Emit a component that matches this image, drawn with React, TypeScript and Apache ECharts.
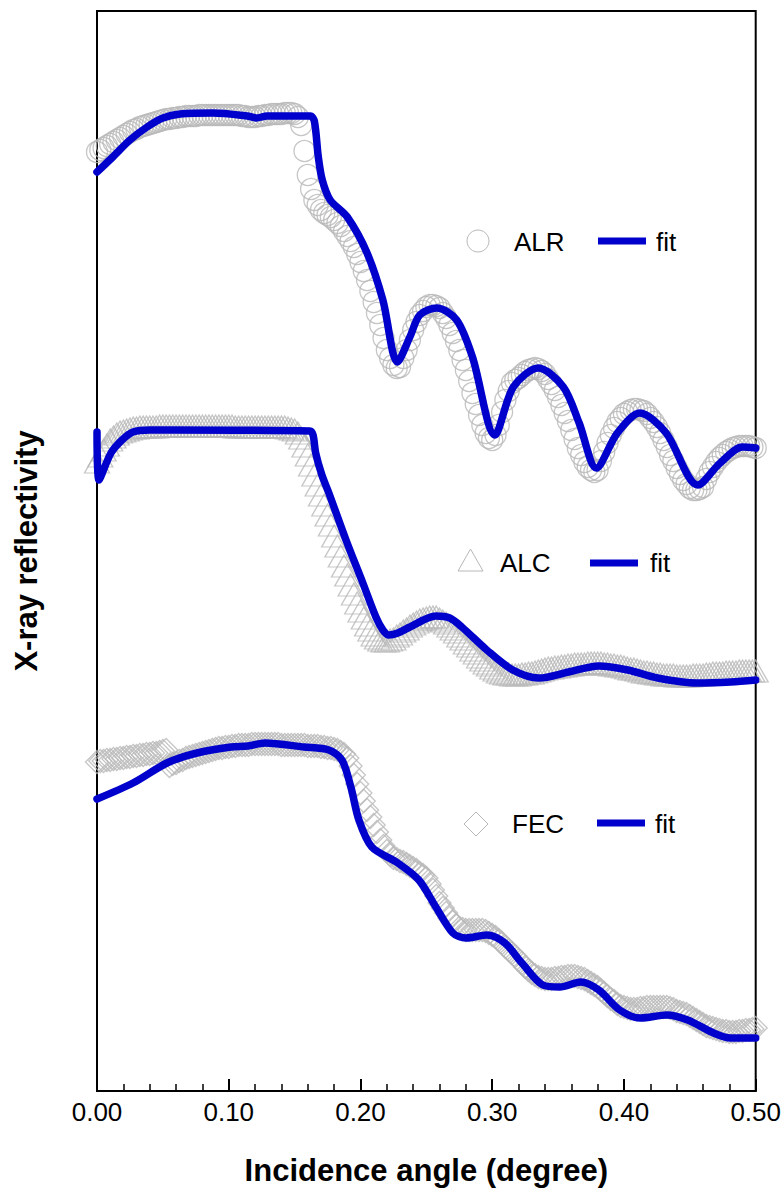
import React, { useEffect, useRef } from 'react';
import * as echarts from 'echarts';

// Incidence angle sampling of the measured curves (degree)
const ANGLES = [0,0.005,0.01,0.015,0.02,0.025,0.03,0.035,0.04,0.045,0.05,0.055,0.06,0.065,0.07,0.075,0.08,0.085,0.09,0.095,0.1,0.105,0.11,0.115,0.12,0.125,0.13,0.135,0.14,0.145,0.15,0.155,0.16,0.165,0.17,0.175,0.18,0.185,0.19,0.195,0.2,0.205,0.21,0.215,0.22,0.225,0.23,0.235,0.24,0.245,0.25,0.255,0.26,0.265,0.27,0.275,0.28,0.285,0.29,0.295,0.3,0.305,0.31,0.315,0.32,0.325,0.33,0.335,0.34,0.345,0.35,0.355,0.36,0.365,0.37,0.375,0.38,0.385,0.39,0.395,0.4,0.405,0.41,0.415,0.42,0.425,0.43,0.435,0.44,0.445,0.45,0.455,0.46,0.465,0.47,0.475,0.48,0.485,0.49,0.495,0.5];
const ANGLES_MID = [0.0025,0.0075,0.0125,0.0175,0.0225,0.0275,0.0325,0.0375,0.0425,0.0475,0.0525,0.0575,0.0625,0.0675,0.0725,0.0775,0.0825,0.0875,0.0925,0.0975,0.1025,0.1075,0.1125,0.1175,0.1225,0.1275,0.1325,0.1375,0.1425,0.1475,0.1525,0.1575,0.1625,0.1675,0.1725,0.1775,0.1825,0.1875,0.1925,0.1975,0.2025,0.2075,0.2125,0.2175,0.2225,0.2275,0.2325,0.2375,0.2425,0.2475,0.2525,0.2575,0.2625,0.2675,0.2725,0.2775,0.2825,0.2875,0.2925,0.2975,0.3025,0.3075,0.3125,0.3175,0.3225,0.3275,0.3325,0.3375,0.3425,0.3475,0.3525,0.3575,0.3625,0.3675,0.3725,0.3775,0.3825,0.3875,0.3925,0.3975,0.4025,0.4075,0.4125,0.4175,0.4225,0.4275,0.4325,0.4375,0.4425,0.4475,0.4525,0.4575,0.4625,0.4675,0.4725,0.4775,0.4825,0.4875,0.4925,0.4975];

// Measured reflectivity (arbitrary log units, curves offset)
const ALR_DATA = [9.39,9.43,9.47,9.51,9.55,9.59,9.62,9.65,9.67,9.69,
  9.71,9.72,9.73,9.74,9.75,9.75,9.76,9.76,9.76,9.76,
  9.76,9.76,9.75,9.74,9.74,9.75,9.76,9.77,9.77,9.78,
  9.77,9.66,9.16,8.91,8.81,8.76,8.71,8.65,8.55,8.44,
  8.29,8.11,7.89,7.66,7.41,7.26,7.24,7.41,7.61,7.76,
  7.84,7.86,7.83,7.73,7.58,7.41,7.21,6.98,6.76,6.58,
  6.51,6.66,6.91,7.08,7.13,7.19,7.22,7.22,7.17,7.07,
  6.94,6.78,6.61,6.43,6.29,6.21,6.21,6.39,6.56,6.69,
  6.77,6.81,6.82,6.80,6.73,6.64,6.51,6.36,6.23,6.11,
  6.03,6.01,6.04,6.19,6.29,6.36,6.41,6.44,6.45,6.45,
  6.43];
const ALR_MID = [9.41,9.45,9.49,9.53,9.57,9.61,9.64,9.66,9.68,9.70,
  9.72,9.73,9.74,9.75,9.75,9.76,9.76,9.76,9.76,9.76,
  9.76,9.76,9.75,9.74,9.75,9.76,9.77,9.77,9.78,9.78,
  9.74,9.40,9.02,8.86,8.78,8.74,8.68,8.60,8.50,8.37,
  8.20,8.00,7.78,7.53,7.33,7.23,7.33,7.51,7.69,7.80,
  7.86,7.85,7.78,7.66,7.50,7.31,7.10,6.87,6.66,6.53,
  6.56,6.79,7.00,7.11,7.16,7.21,7.23,7.20,7.12,7.01,
  6.86,6.70,6.52,6.36,6.24,6.19,6.30,6.48,6.63,6.73,
  6.79,6.82,6.81,6.77,6.69,6.58,6.44,6.30,6.17,6.07,
  6.01,6.02,6.12,6.24,6.33,6.39,6.43,6.45,6.45,6.44];

const ALC_DATA = [6.29,6.41,6.51,6.57,6.60,6.62,6.63,6.64,6.64,6.64,
  6.65,6.65,6.65,6.65,6.65,6.65,6.65,6.65,6.65,6.65,
  6.65,6.64,6.64,6.64,6.64,6.64,6.64,6.64,6.64,6.63,
  6.61,6.53,6.36,6.16,5.96,5.76,5.55,5.35,5.16,4.97,
  4.80,4.66,4.56,4.51,4.50,4.52,4.57,4.62,4.67,4.71,
  4.73,4.74,4.72,4.68,4.62,4.55,4.48,4.41,4.34,4.28,
  4.23,4.19,4.17,4.16,4.16,4.17,4.18,4.20,4.22,4.23,
  4.24,4.25,4.26,4.27,4.27,4.28,4.28,4.27,4.26,4.25,
  4.24,4.22,4.21,4.19,4.18,4.17,4.16,4.16,4.15,4.15,
  4.15,4.16,4.16,4.17,4.18,4.18,4.19,4.19,4.20,4.20,
  4.20];
const ALC_MID = [6.35,6.46,6.54,6.59,6.61,6.63,6.64,6.64,6.64,6.65,
  6.65,6.65,6.65,6.65,6.65,6.65,6.65,6.65,6.65,6.65,
  6.65,6.64,6.64,6.64,6.64,6.64,6.64,6.64,6.64,6.62,
  6.58,6.45,6.26,6.06,5.86,5.66,5.45,5.25,5.06,4.88,
  4.73,4.61,4.53,4.50,4.51,4.55,4.60,4.65,4.69,4.72,
  4.74,4.74,4.70,4.65,4.59,4.52,4.45,4.38,4.31,4.26,
  4.21,4.18,4.17,4.16,4.17,4.18,4.19,4.21,4.23,4.24,
  4.25,4.26,4.27,4.27,4.28,4.28,4.28,4.27,4.26,4.25,
  4.23,4.22,4.20,4.19,4.18,4.17,4.16,4.16,4.15,4.15,
  4.16,4.16,4.17,4.18,4.18,4.19,4.19,4.20,4.20,4.20];

const FEC_DATA = [3.29,3.30,3.31,3.32,3.33,3.34,3.35,3.36,3.37,3.38,
  3.40,3.25,3.28,3.31,3.34,3.36,3.38,3.40,3.42,3.43,
  3.44,3.45,3.46,3.46,3.47,3.47,3.47,3.47,3.46,3.46,
  3.46,3.46,3.45,3.45,3.44,3.43,3.42,3.39,3.33,3.16,
  2.98,2.81,2.66,2.51,2.40,2.33,2.30,2.27,2.23,2.18,
  2.13,2.01,1.88,1.78,1.69,1.63,1.61,1.61,1.61,1.60,
  1.56,1.51,1.44,1.38,1.31,1.24,1.18,1.14,1.12,1.12,
  1.13,1.14,1.15,1.14,1.12,1.08,1.04,0.98,0.92,0.87,
  0.84,0.82,0.82,0.83,0.84,0.84,0.84,0.83,0.80,0.78,
  0.75,0.71,0.67,0.64,0.62,0.60,0.59,0.59,0.60,0.61,
  0.63];
const FEC_MID = [3.30,3.31,3.32,3.33,3.34,3.35,3.36,3.37,3.38,3.39,
  3.41,3.27,3.30,3.33,3.35,3.37,3.39,3.41,3.43,3.44,
  3.45,3.46,3.46,3.47,3.47,3.47,3.47,3.47,3.46,3.46,
  3.46,3.46,3.45,3.45,3.44,3.43,3.41,3.37,3.25,3.07,
  2.90,2.74,2.59,2.45,2.36,2.32,2.29,2.25,2.21,2.16,
  2.07,1.95,1.83,1.73,1.66,1.62,1.61,1.61,1.61,1.58,
  1.54,1.48,1.41,1.35,1.28,1.21,1.16,1.13,1.12,1.13,
  1.14,1.15,1.15,1.13,1.10,1.06,1.01,0.95,0.90,0.85,
  0.83,0.82,0.83,0.84,0.84,0.84,0.84,0.82,0.79,0.77,
  0.73,0.69,0.65,0.63,0.61,0.60,0.59,0.60,0.61,0.62];

// Fitted curves
const ALR_FIT_X = [0,0.012,0.025,0.038,0.05,0.063,0.088,0.114,0.121,0.129,0.146,0.162,0.165,0.168,0.171,0.177,0.19,0.205,0.217,0.228,0.2375,0.245,0.258,0.273,0.285,0.302,0.316,0.335,0.354,0.366,0.379,0.395,0.412,0.432,0.456,0.473,0.49,0.5];
const ALR_FIT_Y = [9.19,9.34,9.51,9.64,9.73,9.77,9.78,9.75,9.73,9.75,9.75,9.75,9.70,9.34,9.11,8.91,8.74,8.38,7.91,7.29,7.54,7.76,7.83,7.71,7.34,6.56,7.04,7.23,7.04,6.68,6.23,6.58,6.78,6.58,6.06,6.28,6.44,6.43];

const ALC_FIT_X = [0,0.0015,0.0106,0.019,0.0273,0.04,0.059,0.1616,0.164,0.166,0.1707,0.176,0.189,0.2018,0.2117,0.217,0.2215,0.2284,0.2375,0.2572,0.2678,0.2769,0.2959,0.3156,0.3354,0.3581,0.3809,0.4029,0.4256,0.4552,0.481,0.5];
const ALC_FIT_Y = [6.59,6.11,6.38,6.51,6.59,6.61,6.61,6.60,6.56,6.38,6.16,5.98,5.51,5.08,4.74,4.61,4.56,4.58,4.64,4.75,4.73,4.64,4.41,4.21,4.13,4.19,4.25,4.21,4.13,4.08,4.09,4.11];

const FEC_FIT_X = [0,0.0273,0.0531,0.0759,0.1017,0.1146,0.1275,0.1571,0.176,0.1859,0.1927,0.1988,0.2086,0.2284,0.2443,0.2572,0.2701,0.28,0.2959,0.3096,0.3225,0.3384,0.3513,0.3672,0.3809,0.3968,0.4127,0.4325,0.4484,0.4681,0.481,0.5];
const FEC_FIT_Y = [2.92,3.08,3.28,3.38,3.44,3.45,3.48,3.44,3.41,3.31,3.04,2.71,2.44,2.28,2.11,1.84,1.58,1.53,1.56,1.48,1.28,1.06,1.04,1.09,1.01,0.81,0.73,0.76,0.71,0.58,0.53,0.53];

const SAMPLE_NAMES = ['ALR', 'ALC', 'FEC'];
const FIT_NAME = 'fit';

const GRAY = '#b8b8b8';
const BLUE = '#0000cc';
const FONT = "'Liberation Sans', Arial, sans-serif";

function zip(xs: number[], ys: number[]) {
  return xs.map((x, i) => [x, ys[i]]);
}

export default function App() {
  const ref = useRef<HTMLDivElement>(null);

  useEffect(() => {
    if (!ref.current) return;
    const chart = echarts.init(ref.current, null, { renderer: 'svg' });

    const scatter = (name: string, ys: number[], mids: number[], symbol: string, size: any) => ({
      name,
      type: 'scatter',
      data: zip(ANGLES, ys).concat(zip(ANGLES_MID, mids)),
      symbol,
      symbolSize: size,
      itemStyle: { color: 'rgba(0,0,0,0)', borderColor: GRAY, borderWidth: 1.3 },
      z: 2,
    });
    const fit = (xs: number[], ys: number[]) => ({
      name: FIT_NAME,
      type: 'line',
      data: zip(xs, ys),
      smooth: 0.3,
      showSymbol: false,
      symbol: 'none',
      lineStyle: { color: BLUE, width: 7.5, cap: 'round', join: 'round' },
      z: 3,
    });

    const legendText = (text: string, x: number, y: number) => ({
      type: 'text',
      x,
      y,
      style: { text, fontSize: 26, fontFamily: FONT, fill: '#000', verticalAlign: 'middle' },
    });
    const legendLine = (x1: number, x2: number, y: number) => ({
      type: 'line',
      shape: { x1, y1: y, x2, y2: y },
      style: { stroke: BLUE, lineWidth: 7 },
    });

    chart.setOption({
      animation: false,
      backgroundColor: '#ffffff',
      grid: {
        left: 97,
        right: 28,
        top: 11,
        bottom: 108,
        show: true,
        borderColor: '#000',
        borderWidth: 2,
        backgroundColor: 'rgba(0,0,0,0)',
      },
      xAxis: {
        type: 'value',
        min: 0,
        max: 0.5,
        interval: 0.1,
        axisLine: { show: true, onZero: false, lineStyle: { color: '#000', width: 2 } },
        axisTick: { show: true, inside: true, length: 12, lineStyle: { color: '#000', width: 2 } },
        minorTick: { show: true, splitNumber: 5, length: 7, lineStyle: { color: '#000', width: 1.5 } },
        splitLine: { show: false },
        axisLabel: {
          formatter: (v: number) => v.toFixed(2),
          fontSize: 26,
          fontFamily: FONT,
          color: '#000',
          margin: 8,
        },
        name: 'Incidence angle (degree)',
        nameLocation: 'middle',
        nameGap: 64,
        nameTextStyle: { fontSize: 31, fontWeight: 'bold', fontFamily: FONT, color: '#000' },
      },
      yAxis: {
        type: 'value',
        min: 0,
        max: 10.8,
        axisLine: { show: true, onZero: false, lineStyle: { color: '#000', width: 2 } },
        axisTick: { show: false },
        axisLabel: { show: false },
        splitLine: { show: false },
        name: 'X-ray reflectivity',
        nameLocation: 'middle',
        nameRotate: 90,
        nameGap: 55,
        nameTextStyle: { fontSize: 31, fontWeight: 'bold', fontFamily: FONT, color: '#000' },
      },
      series: [
        scatter(SAMPLE_NAMES[0], ALR_DATA, ALR_MID, 'circle', 21),
        scatter(SAMPLE_NAMES[1], ALC_DATA, ALC_MID, 'triangle', [25, 22]),
        scatter(SAMPLE_NAMES[2], FEC_DATA, FEC_MID, 'diamond', [23, 23]),
        fit(ALR_FIT_X, ALR_FIT_Y),
        fit(ALC_FIT_X, ALC_FIT_Y),
        fit(FEC_FIT_X, FEC_FIT_Y),
      ],
      graphic: [
        { type: 'circle', shape: { cx: 478, cy: 241, r: 11 }, style: { fill: 'none', stroke: GRAY, lineWidth: 1 } },
        legendText(SAMPLE_NAMES[0], 514, 242),
        legendLine(598, 646, 241),
        legendText(FIT_NAME, 656, 242),

        { type: 'polygon', shape: { points: [[470.5, 549], [458, 571], [483, 571]] }, style: { fill: 'none', stroke: GRAY, lineWidth: 1 } },
        legendText(SAMPLE_NAMES[1], 500, 563),
        legendLine(590, 638, 563),
        legendText(FIT_NAME, 650, 563),

        { type: 'polygon', shape: { points: [[476, 812], [488, 824], [476, 836], [464, 824]] }, style: { fill: 'none', stroke: GRAY, lineWidth: 1 } },
        legendText(SAMPLE_NAMES[2], 512, 824),
        legendLine(597, 645, 823),
        legendText(FIT_NAME, 655, 824),
      ],
    });

    return () => chart.dispose();
  }, []);

  return (
    <div
      ref={ref}
      style={{ position: 'absolute', left: 0, top: 0, width: 784, height: 1199, background: '#fff' }}
    />
  );
}
